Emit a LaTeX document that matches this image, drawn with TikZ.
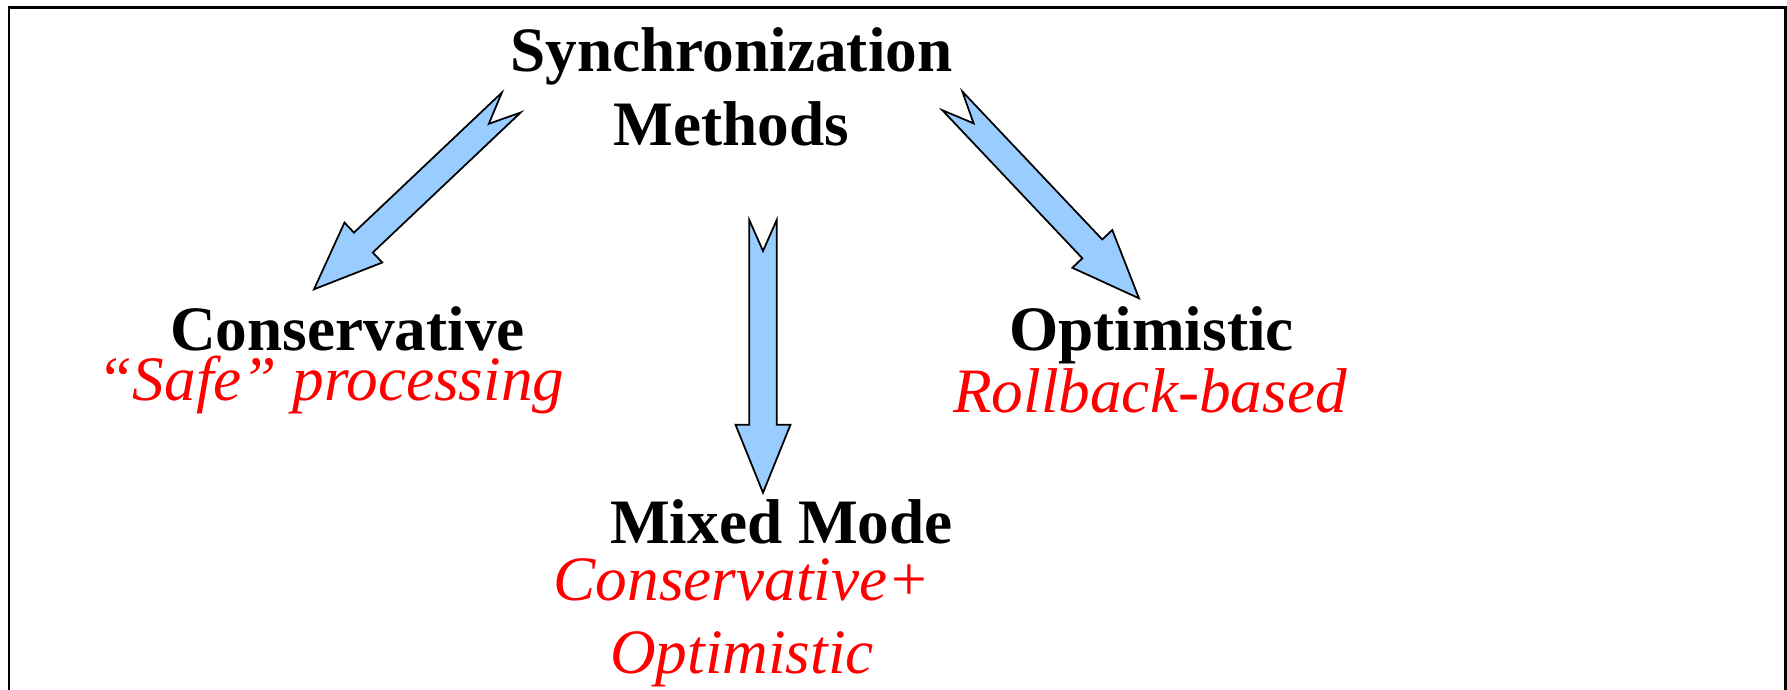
\documentclass[tikz,border=0pt]{standalone}
\usepackage{fontspec}
\setmainfont{Liberation Serif}
\usetikzlibrary{calc}
\definecolor{arrowblue}{HTML}{99CCFF}
\definecolor{notered}{HTML}{FF0000}

% block arrow with a notched tail, from #1 (tail) to #2 (tip)
\newcommand{\notcharrow}[2]{%
  \coordinate (na) at (#1);
  \coordinate (nb) at (#2);
  \coordinate (nh) at ($(nb)!0.68cm!(na)$);
  \coordinate (nn) at ($(na)!0.31cm!(nb)$);
  \filldraw[blockarrow]
    ($(na)!0.137cm!90:(nb)$) -- ($(nh)!0.137cm!-90:(na)$) -- ($(nh)!0.275cm!-90:(na)$)
    -- (nb) -- ($(nh)!0.275cm!90:(na)$) -- ($(nh)!0.137cm!90:(na)$)
    -- ($(na)!0.137cm!-90:(nb)$) -- (nn) -- cycle;
}

\tikzset{
  blockarrow/.style={fill=arrowblue,draw=black,line width=0.5pt,line join=miter},
  method/.style={font=\fontsize{18}{21}\selectfont\bfseries,inner sep=0pt,anchor=base},
  methodnote/.style={font=\fontsize{18}{20.7}\selectfont\itshape,text=notered,inner sep=0pt,anchor=base},
}

\begin{document}
\begin{tikzpicture}
  \useasboundingbox (0,0) rectangle (17.87,6.89);
  % frame, open at the bottom
  \draw[line width=0.7pt] (0.09,-0.2) -- (0.09,6.817) -- (17.857,6.817) -- (17.857,-0.2);

  % base of a two-line node sits on its last line
  \node[method,align=center] (sync) at (7.315,5.44) {Synchronization\\Methods};

  \node[method] (cons) at (3.475,3.39) {Conservative};
  \node[methodnote] (consnote) at (3.31,2.89) {“Safe” processing};

  \node[method] (opt) at (11.515,3.39) {Optimistic};
  \node[methodnote] (optnote) at (11.50,2.77) {Rollback-based};

  \node[method] (mixed) at (7.815,1.46) {Mixed Mode};
  \node[methodnote,align=center] (mixednote) at (7.42,0.16) {Conservative+\\Optimistic};

  % arrow ends
  \coordinate (cons-tail) at (5.113,5.865);
  \coordinate (cons-tip) at (3.14,3.997);
  \coordinate (mixed-tail) at (7.63,4.69);
  \coordinate (mixed-tip) at (7.63,1.963);
  \coordinate (opt-tail) at (9.523,5.882);
  \coordinate (opt-tip) at (11.39,3.907);

  \notcharrow{cons-tail}{cons-tip}
  \notcharrow{mixed-tail}{mixed-tip}
  \notcharrow{opt-tail}{opt-tip}
\end{tikzpicture}
\end{document}
